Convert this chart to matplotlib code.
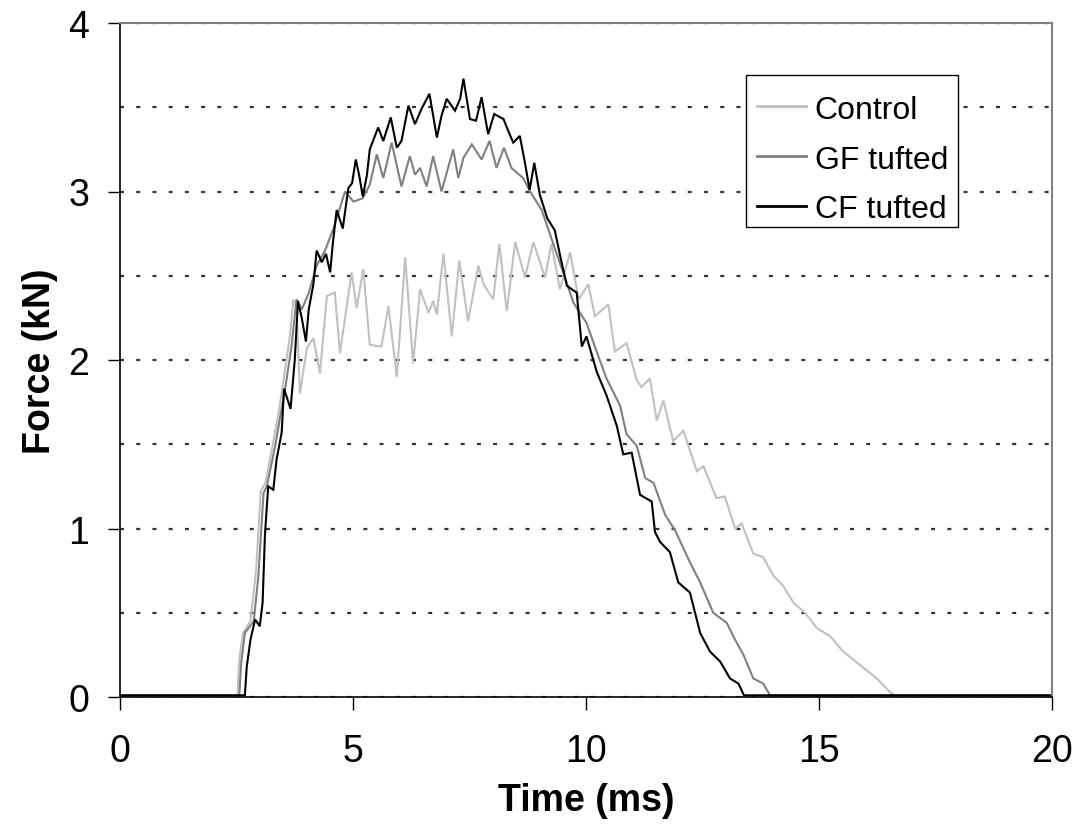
import matplotlib
matplotlib.use("Agg")
import matplotlib.pyplot as plt
from matplotlib.ticker import MultipleLocator
from matplotlib.patches import Rectangle

plt.rcParams['font.family'] = ['Liberation Sans', 'DejaVu Sans']

# ---- data ----
control_t = [0, 2.52, 2.56, 2.64, 2.80, 2.92, 3.02, 3.12, 3.28, 3.40, 3.52, 3.65, 3.72, 3.79, 3.86,
             4.01, 4.15, 4.29, 4.44, 4.61, 4.72, 4.97, 5.08, 5.22, 5.36, 5.61, 5.76, 5.94, 6.12,
             6.29, 6.44, 6.62, 6.72, 6.80, 6.94, 7.12, 7.28, 7.47, 7.69, 7.80, 8.01, 8.14, 8.30,
             8.48, 8.69, 8.87, 9.12, 9.26, 9.44, 9.66, 9.84, 10.05, 10.19, 10.48, 10.62, 10.87,
             11.09, 11.19, 11.37, 11.52, 11.66, 11.87, 12.09, 12.38, 12.52, 12.80, 12.98, 13.20,
             13.34, 13.59, 13.80, 14.02, 14.23, 14.45, 14.70, 14.95, 15.24, 15.52, 15.88, 16.24,
             16.52, 16.62, 20]
control_f = [0.01, 0.01, 0.22, 0.38, 0.45, 0.75, 1.22, 1.27, 1.50, 1.68, 1.90, 2.15, 2.36, 2.30, 1.80,
             2.07, 2.13, 1.92, 2.38, 2.40, 2.04, 2.52, 2.31, 2.54, 2.09, 2.08, 2.32, 1.90, 2.61,
             1.98, 2.42, 2.28, 2.35, 2.27, 2.63, 2.14, 2.59, 2.23, 2.56, 2.45, 2.36, 2.69, 2.29,
             2.70, 2.49, 2.70, 2.49, 2.69, 2.42, 2.64, 2.36, 2.45, 2.26, 2.33, 2.05, 2.10,
             1.88, 1.84, 1.89, 1.64, 1.76, 1.52, 1.58, 1.34, 1.37, 1.18, 1.19, 1.00,
             1.03, 0.85, 0.83, 0.72, 0.66, 0.56, 0.50, 0.41, 0.36, 0.27, 0.19, 0.11,
             0.03, 0.01, 0.01]

gf_t = [0, 2.56, 2.60, 2.68, 2.87, 2.97, 3.08, 3.15, 3.33, 3.43, 3.55, 3.68, 3.79, 3.90, 4.04,
        4.22, 4.40, 4.58, 4.83, 5.01, 5.21, 5.36, 5.51, 5.65, 5.83, 6.04, 6.22, 6.33, 6.44,
        6.58, 6.72, 6.90, 7.15, 7.26, 7.37, 7.55, 7.76, 7.93, 8.08, 8.24, 8.40, 8.65, 8.80,
        9.05, 9.26, 9.51, 9.73, 10.01, 10.19, 10.44, 10.73, 10.87, 11.09, 11.27, 11.45, 11.70,
        11.91, 12.23, 12.45, 12.73, 13.02, 13.20, 13.38, 13.59, 13.80, 13.95, 20]
gf_f = [0.01, 0.01, 0.20, 0.38, 0.45, 0.72, 1.21, 1.25, 1.49, 1.65, 1.84, 2.08, 2.36, 2.30, 2.39,
        2.56, 2.65, 2.78, 3.00, 2.94, 2.96, 3.04, 3.22, 3.08, 3.29, 3.03, 3.21, 3.10, 3.14,
        3.03, 3.21, 3.00, 3.25, 3.08, 3.20, 3.28, 3.19, 3.30, 3.14, 3.26, 3.14, 3.08, 3.00,
        2.89, 2.72, 2.52, 2.34, 2.22, 2.08, 1.89, 1.73, 1.56, 1.49, 1.30, 1.27, 1.08,
        0.99, 0.80, 0.68, 0.50, 0.44, 0.34, 0.25, 0.11, 0.08, 0.01, 0.01]

cf_t = [0, 2.68, 2.72, 2.80, 2.90, 3.00, 3.06, 3.11, 3.18, 3.29, 3.36, 3.47, 3.52, 3.66, 3.75,
        3.82, 3.90, 3.99, 4.05, 4.15, 4.22, 4.33, 4.42, 4.51, 4.57, 4.65, 4.78, 4.90, 4.98,
        5.06, 5.13, 5.21, 5.30, 5.36, 5.54, 5.65, 5.81, 5.94, 6.04, 6.19, 6.33, 6.47, 6.64,
        6.80, 6.90, 7.01, 7.19, 7.30, 7.37, 7.51, 7.64, 7.76, 7.90, 8.03, 8.23, 8.36, 8.44,
        8.58, 8.69, 8.79, 8.89, 9.01, 9.17, 9.33, 9.46, 9.59, 9.80, 9.91, 10.01, 10.23, 10.44,
        10.66, 10.80, 10.98, 11.16, 11.41, 11.48, 11.59, 11.80, 11.98, 12.23, 12.45, 12.66,
        12.88, 13.09, 13.27, 13.39, 20]
cf_f = [0.01, 0.01, 0.18, 0.34, 0.46, 0.42, 0.56, 0.96, 1.25, 1.23, 1.41, 1.57, 1.83, 1.71, 2.00,
        2.35, 2.25, 2.11, 2.30, 2.45, 2.65, 2.58, 2.63, 2.52, 2.70, 2.89, 2.78, 3.02, 3.05,
        3.19, 3.10, 2.97, 3.10, 3.25, 3.38, 3.30, 3.44, 3.26, 3.30, 3.51, 3.40, 3.49, 3.58,
        3.32, 3.45, 3.55, 3.48, 3.55, 3.67, 3.43, 3.42, 3.56, 3.34, 3.46, 3.43, 3.34, 3.29,
        3.33, 3.17, 3.01, 3.17, 2.98, 2.84, 2.77, 2.60, 2.44, 2.40, 2.08, 2.14, 1.93, 1.79,
        1.61, 1.44, 1.45, 1.20, 1.16, 0.98, 0.92, 0.86, 0.68, 0.62, 0.38, 0.27,
        0.21, 0.11, 0.08, 0.01, 0.01]

series_names = ["Control", "GF tufted", "CF tufted"]
series_colors = ["#c0c0c0", "#808080", "#000000"]

x_ticks = [0, 5, 10, 15, 20]
y_ticks = [0, 1, 2, 3, 4]

# ---- figure ----
W, H = 1080, 829
fig = plt.figure(figsize=(W / 100, H / 100), dpi=100)
L, R, T, B = 120, 1052, 24, 698
ax = fig.add_axes([L / W, 1 - B / H, (R - L) / W, (B - T) / H])

for t, f, name, c in zip([control_t, gf_t, cf_t], [control_f, gf_f, cf_f],
                         series_names, series_colors):
    ax.plot(t, f, color=c, lw=1.5, label=name, solid_joinstyle='miter')

ax.set_xlim(0, 20)
ax.set_ylim(0, 4)
ax.set_xticks(x_ticks)
ax.set_yticks(y_ticks)
ax.yaxis.set_minor_locator(MultipleLocator(0.5))
ax.grid(True, axis='y', which='both', color='#333333', lw=1.6,
        linestyle=(0, (1.8, 5.5)))
ax.set_axisbelow(True)

ax.tick_params(axis='both', which='major', direction='out', length=9, width=1,
               color='black', labelsize=27)
ax.tick_params(axis='y', which='minor', length=0)
ax.tick_params(axis='x', pad=17)
ax.tick_params(axis='y', pad=13)

for s in ['left', 'bottom']:
    ax.spines[s].set_color('black')
    ax.spines[s].set_linewidth(1.2)
for s in ['top', 'right']:
    ax.spines[s].set_color('#808080')
    ax.spines[s].set_linewidth(1.5)

ax.set_xlabel("Time (ms)", fontsize=27, fontweight='bold')
ax.set_ylabel("Force (kN)", fontsize=27, fontweight='bold')
ax.xaxis.set_label_coords(0.5, -0.126)
ax.yaxis.set_label_coords(-0.0665, 0.5)

# legend box (pixel layout of the reference)
def ax_x(px):
    return (px - L) / (R - L)

def ax_y(py):
    return (B - py) / (B - T)

box_l, box_r, box_t, box_b = 746, 958, 76, 228
ax.add_patch(Rectangle((ax_x(box_l), ax_y(box_b)), ax_x(box_r) - ax_x(box_l),
                       ax_y(box_t) - ax_y(box_b), transform=ax.transAxes,
                       facecolor='white', edgecolor='black', lw=1.0, zorder=4.5,
                       clip_on=False))

leg = ax.legend(loc='upper left', bbox_to_anchor=(ax_x(box_l), ax_y(box_t + 9)),
                bbox_transform=ax.transAxes, borderaxespad=0, fontsize=23,
                frameon=False, handlelength=1.54, handletextpad=0.28,
                labelspacing=0.625, borderpad=0.33)
leg.set_zorder(5)
for h in leg.get_lines():
    h.set_linewidth(2.0)

fig.savefig("out.png", dpi=100)
